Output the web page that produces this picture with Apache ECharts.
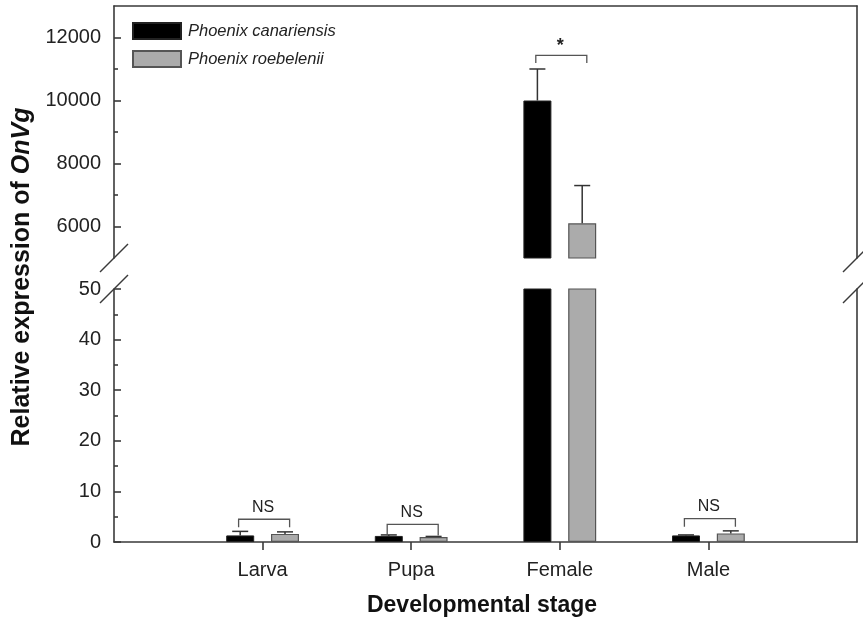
<!DOCTYPE html>
<html>
<head>
<meta charset="utf-8">
<script src="https://cdn.jsdelivr.net/npm/echarts@6/dist/echarts.min.js"></script>
<style>
  html, body { margin: 0; background: #fff; }
  #chart { width: 863px; height: 622px; }
</style>
</head>
<body>
<div id="chart"></div>
<script>
// categories sit at 1..4 on a 0..5 axis, like the original plot
const stages = ['', 'Larva', 'Pupa', 'Female', 'Male', ''];
const canariensis = [null, 1.3, 1.2, 10000, 1.3, null];
const canariensisSD = [null, 0.8, 0.2, 1000, 0.1, null];
const roebelenii = [null, 1.6, 1.0, 6100, 1.7, null];
const roebeleniiSD = [null, 0.4, 0.1, 1200, 0.5, null];
// significance brackets: top of bracket, bottom of legs, label
const bracketTop = [null, 4.5, 3.5, 11430, 4.6, null];
const bracketLeg = [null, 2.9, 1.3, 11190, 3.0, null];
const bracketText = ['', 'NS', 'NS', '*', 'NS', ''];
// tick labels
const upperTicks = [6000, 8000, 10000, 12000];
const upperMinor = [7000, 9000, 11000];
const lowerTicks = [0, 10, 20, 30, 40, 50];
const lowerMinor = [5, 15, 25, 35, 45];

const BREAK = 50;       // top of the lower panel
const axisColor = '#3a3a3a';
const font = '"Liberation Sans", Arial, sans-serif';

const chart = echarts.init(document.getElementById('chart'));

const upper = v => (v != null && v > BREAK ? v : null);
const lower = v => v;

function errData(means, sds, side, inUpper) {
  const out = [];
  means.forEach((m, i) => {
    if (m == null) return;
    if (inUpper !== (m > BREAK)) return;
    out.push([i, m, sds[i], side]);
  });
  return out;
}

function bracketData(inUpper) {
  const out = [];
  bracketTop.forEach((t, i) => {
    if (t == null) return;
    if (inUpper !== (t > BREAK)) return;
    out.push([i, t, bracketLeg[i]]);
  });
  return out;
}

function renderErr(params, api) {
  const top = api.coord([api.value(0), api.value(1) + api.value(2)]);
  const base = api.coord([api.value(0), api.value(1)]);
  const x = top[0] + api.value(3) * 22.4;
  const st = { stroke: '#333', lineWidth: 1.5 };
  return {
    type: 'group',
    children: [
      { type: 'line', shape: { x1: x, y1: base[1], x2: x, y2: top[1] }, style: st },
      { type: 'line', shape: { x1: x - 8, y1: top[1], x2: x + 8, y2: top[1] }, style: st }
    ]
  };
}

function renderBracket(params, api) {
  const i = api.value(0);
  const t = api.coord([i, api.value(1)]);
  const l = api.coord([i, api.value(2)]);
  const xl = t[0] - 24, xr = t[0] + 27;
  const label = bracketText[i];
  return {
    type: 'group',
    children: [
      {
        type: 'polyline',
        shape: { points: [[xl, l[1]], [xl, t[1]], [xr, t[1]], [xr, l[1]]] },
        style: { stroke: '#555', lineWidth: 1.3, fill: null }
      },
      {
        type: 'text',
        x: (xl + xr) / 2 - 1,
        y: t[1] - (label === '*' ? 9 : 12),
        style: {
          text: label, align: 'center', verticalAlign: 'middle',
          fontSize: label === '*' ? 18 : 16, fontWeight: label === '*' ? 'bold' : 'normal',
          fontFamily: font, fill: '#222'
        }
      }
    ]
  };
}

const lineStyle = { color: axisColor, width: 1.6 };

function valueAxes(grid, min, max, major, minor) {
  return [
    {
      gridIndex: grid, type: 'value', min: min, max: max, position: 'left',
      axisLine: { show: true, lineStyle: lineStyle },
      axisTick: { show: true, inside: true, length: 7, lineStyle: lineStyle, customValues: major },
      axisLabel: {
        customValues: major, fontSize: 20, color: '#222', margin: 13, fontFamily: font,
        formatter: v => String(v)
      },
      splitLine: { show: false }
    },
    {
      gridIndex: grid, type: 'value', min: min, max: max, position: 'left',
      axisLine: { show: false },
      axisTick: { show: true, inside: true, length: 4, lineStyle: lineStyle, customValues: minor },
      axisLabel: { show: false },
      splitLine: { show: false }
    },
    {
      gridIndex: grid, type: 'value', min: min, max: max, position: 'right',
      axisLine: { show: true, lineStyle: lineStyle },
      axisTick: { show: false }, axisLabel: { show: false }, splitLine: { show: false }
    }
  ];
}

function slash(x, y) {
  return {
    type: 'line',
    shape: { x1: x - 14, y1: y + 14, x2: x + 14, y2: y - 14 },
    style: { stroke: axisColor, lineWidth: 1.5 }
  };
}

const barBlack = { color: '#000', borderColor: '#222', borderWidth: 1 };
const barGray = { color: '#ababab', borderColor: '#555', borderWidth: 1.2 };

const options = {
  animation: false,
  textStyle: { fontFamily: font },
  grid: [
    { left: 114, right: 6, top: 6, height: 252 },
    { left: 114, right: 6, top: 289, bottom: 80 }
  ],
  legend: {
    data: ['Phoenix canariensis', 'Phoenix roebelenii'],
    orient: 'vertical', left: 127, top: 17,
    icon: 'rect', itemWidth: 48, itemHeight: 16, itemGap: 10,
    textStyle: { fontSize: 16.5, fontStyle: 'italic', color: '#222', padding: [0, 0, 0, 2] }
  },
  xAxis: [
    {
      gridIndex: 0, type: 'category', data: stages, boundaryGap: false, position: 'top',
      axisLine: { onZero: false, lineStyle: lineStyle },
      axisTick: { show: false }, axisLabel: { show: false }
    },
    {
      gridIndex: 1, type: 'category', data: stages, boundaryGap: false, position: 'bottom',
      axisLine: { onZero: false, lineStyle: lineStyle },
      axisTick: { interval: (i) => i > 0 && i < 5, length: 8, lineStyle: lineStyle },
      axisLabel: { interval: 0, fontSize: 20, color: '#222', margin: 18, fontFamily: font }
    }
  ],
  yAxis: [
    ...valueAxes(0, 5000, 13000, upperTicks, upperMinor),
    ...valueAxes(1, 0, 50, lowerTicks, lowerMinor)
  ],
  series: [
    {
      name: 'Phoenix canariensis', type: 'bar', xAxisIndex: 0, yAxisIndex: 0,
      data: canariensis.map(upper), barWidth: 28, barGap: '60%', clip: true, itemStyle: barBlack
    },
    {
      name: 'Phoenix roebelenii', type: 'bar', xAxisIndex: 0, yAxisIndex: 0,
      data: roebelenii.map(upper), barWidth: 28, barGap: '60%', clip: true, itemStyle: barGray
    },
    {
      name: 'Phoenix canariensis', type: 'bar', xAxisIndex: 1, yAxisIndex: 3,
      data: canariensis.map(lower), barWidth: 28, barGap: '60%', clip: true, itemStyle: barBlack
    },
    {
      name: 'Phoenix roebelenii', type: 'bar', xAxisIndex: 1, yAxisIndex: 3,
      data: roebelenii.map(lower), barWidth: 28, barGap: '60%', clip: true, itemStyle: barGray
    },
    {
      type: 'custom', xAxisIndex: 0, yAxisIndex: 0, renderItem: renderErr, z: 5,
      data: errData(canariensis, canariensisSD, -1, true).concat(errData(roebelenii, roebeleniiSD, 1, true))
    },
    {
      type: 'custom', xAxisIndex: 1, yAxisIndex: 3, renderItem: renderErr, z: 5,
      data: errData(canariensis, canariensisSD, -1, false).concat(errData(roebelenii, roebeleniiSD, 1, false))
    },
    { type: 'custom', xAxisIndex: 0, yAxisIndex: 0, renderItem: renderBracket, z: 5, data: bracketData(true) },
    { type: 'custom', xAxisIndex: 1, yAxisIndex: 3, renderItem: renderBracket, z: 5, data: bracketData(false) }
  ],
  graphic: [
    slash(114, 258), slash(114, 289), slash(857, 258), slash(857, 289),
    {
      type: 'text', x: 22, y: 277, rotation: Math.PI / 2,
      style: {
        text: 'Relative expression of {i|OnVg}',
        fontSize: 25, fontWeight: 'bold', fontFamily: font, fill: '#111',
        align: 'center', verticalAlign: 'middle',
        rich: { i: { fontSize: 25, fontWeight: 'bold', fontStyle: 'italic', fontFamily: font, fill: '#111' } }
      }
    },
    {
      type: 'text', x: 482, y: 606,
      style: {
        text: 'Developmental stage', fontSize: 23, fontWeight: 'bold', fontFamily: font, fill: '#111',
        align: 'center', verticalAlign: 'middle'
      }
    }
  ]
};

chart.setOption(options);
</script>
</body>
</html>
